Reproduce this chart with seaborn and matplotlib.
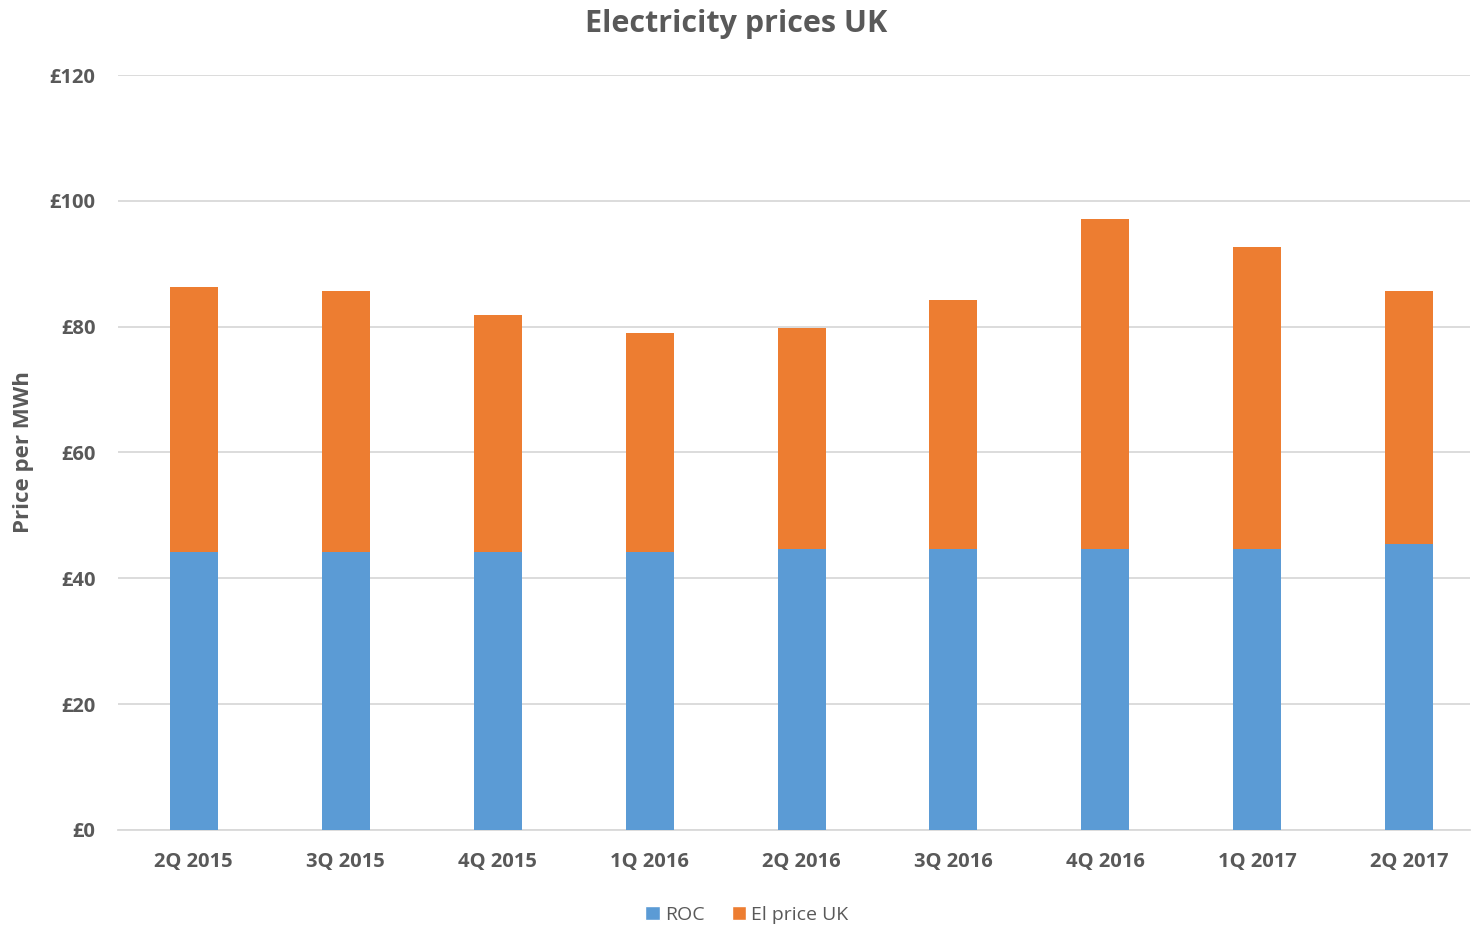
import matplotlib
matplotlib.use("Agg")
import matplotlib.pyplot as plt
import seaborn as sns
import pandas as pd
from matplotlib.patches import Patch

quarters = ["2Q 2015", "3Q 2015", "4Q 2015", "1Q 2016", "2Q 2016",
            "3Q 2016", "4Q 2016", "1Q 2017", "2Q 2017"]
roc = [44.2, 44.2, 44.2, 44.2, 44.7, 44.7, 44.7, 44.7, 45.5]
el_price = [42.1, 41.4, 37.6, 34.8, 35.1, 39.5, 52.4, 47.9, 40.1]
y_ticks = [0, 20, 40, 60, 80, 100, 120]
y_tick_labels = ["£0", "£20", "£40", "£60", "£80", "£100", "£120"]

sns.set_theme(style="white")
plt.rcParams["font.family"] = ["Open Sans", "DejaVu Sans"]

df = pd.DataFrame({"quarter": quarters, "ROC": roc, "El": el_price})
df["total"] = df["ROC"] + df["El"]

blue = "#5B9BD5"
orange = "#ED7D31"
txt = "#595959"
grid = "#D9D9D9"

fig = plt.figure(figsize=(14.73, 9.26), dpi=100)
ax = fig.add_axes([0.080, 0.1037, 0.918, 0.8153])

sns.barplot(data=df, x="quarter", y="total", color=orange, width=0.316,
            saturation=1, ax=ax, zorder=3, linewidth=0)
sns.barplot(data=df, x="quarter", y="ROC", color=blue, width=0.316,
            saturation=1, ax=ax, zorder=4, linewidth=0)

ax.set_ylim(0, 120)
ax.set_xlim(-0.5, 8.40)
ax.set_yticks(y_ticks)
ax.set_yticklabels(y_tick_labels)
ax.yaxis.grid(True, color=grid, linewidth=1.3, zorder=0)
ax.set_axisbelow(True)
for s in ["top", "right", "left"]:
    ax.spines[s].set_visible(False)
ax.spines["bottom"].set_color(grid)
ax.spines["bottom"].set_linewidth(1.3)
ax.tick_params(axis="both", length=0, colors=txt, labelsize=14.5)
ax.tick_params(axis="y", pad=16)
ax.tick_params(axis="x", pad=16)
for lab in ax.get_xticklabels() + ax.get_yticklabels():
    lab.set_fontweight("bold")
ax.set_xlabel("")
ax.set_ylabel("Price per MWh", fontsize=16, fontweight="bold", color=txt)
ax.yaxis.set_label_coords(-0.062, 0.5)

fig.suptitle("Electricity prices UK", fontsize=22, fontweight="bold", color=txt, y=0.99)

handles = [Patch(facecolor=blue, label="ROC"), Patch(facecolor=orange, label="El price UK")]
fig.legend(handles=handles, loc="center", bbox_to_anchor=(0.507, 0.012), ncol=2,
           frameon=False, fontsize=14, labelcolor=txt, handlelength=0.75,
           handleheight=0.75, handletextpad=0.25, columnspacing=1.4)

fig.savefig("out.png", dpi=100)
